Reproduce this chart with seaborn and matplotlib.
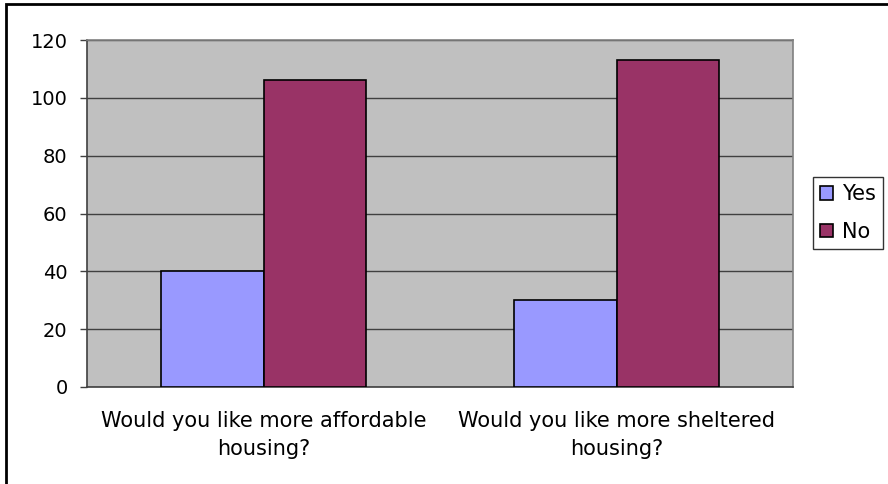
import pandas as pd
import matplotlib.pyplot as plt
import seaborn as sns
from matplotlib.patches import Rectangle

questions = ['Would you like more affordable\nhousing?', 'Would you like more sheltered\nhousing?']
answers = ['Yes', 'No']
yes_counts = [40, 30]
no_counts = [106, 113]

df = pd.DataFrame({
    'question': questions * 2,
    'answer': ['Yes'] * 2 + ['No'] * 2,
    'count': yes_counts + no_counts,
})

sns.set_style('white')
plt.rcParams['font.family'] = ['DejaVu Sans']
plt.rcParams['text.color'] = 'black'
plt.rcParams['xtick.color'] = 'black'
plt.rcParams['ytick.color'] = 'black'
fs = 14

W, H = 888, 484
fig = plt.figure(figsize=(W / 100, H / 100), dpi=100)
# plot area in pixels: x 87..793, y 40..387
ax = fig.add_axes([87 / W, 1 - 387 / H, (793 - 87) / W, (387 - 40) / H])

sns.barplot(data=df, x='question', y='count', hue='answer', hue_order=answers,
            palette={'Yes': '#9999FF', 'No': '#993366'}, width=0.58,
            edgecolor='black', linewidth=1.2, saturation=1, ax=ax, zorder=3)

ax.set_facecolor('#C0C0C0')
ax.set_ylim(0, 120)
ax.set_xlim(-0.5, 1.5)
ax.set_yticks(range(0, 121, 20))
ax.yaxis.grid(True, color='#404040', linewidth=1, zorder=0)
ax.set_axisbelow(True)
ax.set_xlabel('')
ax.set_ylabel('')

# category boundaries carry the x tick marks, labels sit in the middle
ax.set_xticks([0, 1])
ax.set_xticklabels(questions, fontsize=15, linespacing=1.5, color='black')
ax.set_xticks([-0.5, 0.5, 1.5], minor=True)
ax.tick_params(axis='x', which='major', length=0, pad=17)
ax.tick_params(axis='x', which='minor', length=5, width=1, color='#404040', direction='out')
ax.tick_params(axis='y', length=5, width=1, color='#404040', direction='out',
               labelsize=fs, labelcolor='black', pad=9)
ax.tick_params(axis='both', bottom=True, left=True)

for side in ['top', 'right']:
    ax.spines[side].set_color('#808080')
    ax.spines[side].set_linewidth(1.2)
for side in ['left', 'bottom']:
    ax.spines[side].set_color('#404040')
    ax.spines[side].set_linewidth(1.2)

leg = ax.legend(loc='upper left', bbox_to_anchor=(813 / W, 1 - 177 / H),
                bbox_transform=fig.transFigure, fontsize=15,
                frameon=True, fancybox=False, edgecolor='black', handlelength=0.6,
                handleheight=0.6, handletextpad=0.45, borderpad=0.35, labelspacing=0.85,
                borderaxespad=0)
leg.get_frame().set_linewidth(1)
for t in leg.get_texts():
    t.set_color('black')

# outer chart border, cut off on the right and bottom like the source image
fig.patches.append(Rectangle((6 / W, -0.05), 1.1, 1 - 4 / H + 0.05, transform=fig.transFigure,
                             fill=False, edgecolor='black', linewidth=2))

fig.savefig('out.png', dpi=100, facecolor='white')
